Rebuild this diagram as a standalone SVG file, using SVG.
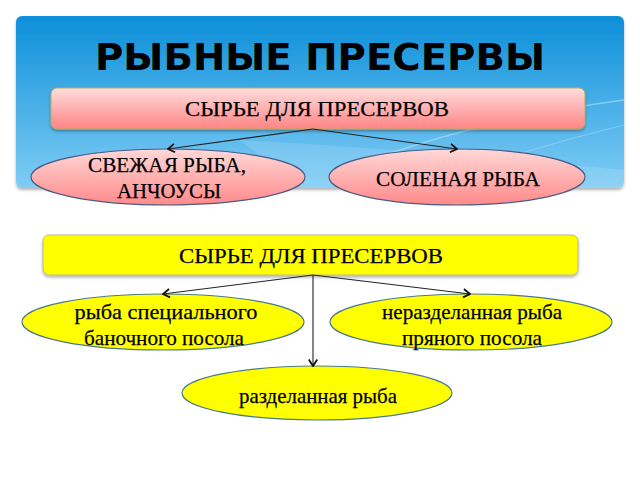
<svg xmlns="http://www.w3.org/2000/svg" width="640" height="480" viewBox="0 0 640 480">
<defs>
<linearGradient id="gBlue" x1="0" y1="0" x2="0" y2="1">
<stop offset="0" stop-color="#0d8fd9"/>
<stop offset="1" stop-color="#80cdf5"/>
</linearGradient>
<linearGradient id="gPink" x1="0" y1="0" x2="0" y2="1">
<stop offset="0" stop-color="#ffdcdc"/>
<stop offset="1" stop-color="#ff8585"/>
</linearGradient>
<linearGradient id="gPinkE" x1="0" y1="0" x2="0" y2="1">
<stop offset="0" stop-color="#ffd8d8"/>
<stop offset="1" stop-color="#ff8a8a"/>
</linearGradient>
<filter id="sh" x="-10%" y="-20%" width="120%" height="150%">
<feDropShadow dx="0" dy="2" stdDeviation="1.5" flood-color="#000" flood-opacity="0.3"/>
</filter>
<marker id="arr" viewBox="0 0 10 10" refX="9" refY="5" markerWidth="12" markerHeight="12" orient="auto" markerUnits="userSpaceOnUse">
<path d="M3.5,1.5 L9,5 L3.5,8.5" fill="none" stroke="#111" stroke-width="1.5"/>
</marker>
</defs>
<style>
.title{font-family:"DejaVu Sans","Liberation Sans",sans-serif;font-weight:bold;font-size:38px;fill:#000}
.t{font-family:"Liberation Serif","Times New Roman",serif;font-size:22px;fill:#000;stroke:#000;stroke-width:0.25}
.pinkE{fill:url(#gPinkE);stroke:#4a5a85;stroke-width:1.2}
.yelE{fill:#ffff00;stroke:#4a7a88;stroke-width:1.2}
.conn{stroke:#222;stroke-width:1.1;fill:none;marker-end:url(#arr)}
</style>
<rect width="640" height="480" fill="#fff"/>
<g id="banner">
<rect x="16" y="16" width="608" height="172" rx="6" fill="url(#gBlue)" filter="url(#sh)"/>
<path d="M330,175 Q470,120 624,100" stroke="#ffffff" stroke-opacity="0.35" stroke-width="1.5" fill="none"/>
<path d="M420,188 Q520,150 624,125" stroke="#ffffff" stroke-opacity="0.25" stroke-width="1" fill="none"/>
<path d="M240,140 Q420,150 624,170 L624,188 L300,188 Z" fill="#ffffff" fill-opacity="0.12"/>
<text class="title" x="320" y="70" text-anchor="middle" textLength="450" lengthAdjust="spacingAndGlyphs">РЫБНЫЕ ПРЕСЕРВЫ</text>
</g>
<g id="node-raw1">
<rect x="51" y="88" width="534" height="41" rx="6" fill="url(#gPink)" stroke="#b0b060" stroke-width="1" filter="url(#sh)"/>
<text class="t" x="317" y="116" text-anchor="middle" textLength="264" lengthAdjust="spacingAndGlyphs">СЫРЬЕ ДЛЯ ПРЕСЕРВОВ</text>
</g>
<g id="node-fresh">
<ellipse class="pinkE" cx="168" cy="177" rx="137" ry="28"/>
<text class="t" x="167" y="172" text-anchor="middle" textLength="158" lengthAdjust="spacingAndGlyphs">СВЕЖАЯ РЫБА,</text>
<text class="t" x="169" y="198" text-anchor="middle" textLength="104" lengthAdjust="spacingAndGlyphs">АНЧОУСЫ</text>
</g>
<g id="node-salted">
<ellipse class="pinkE" cx="457" cy="177" rx="128" ry="28"/>
<text class="t" x="458" y="186" text-anchor="middle" textLength="164" lengthAdjust="spacingAndGlyphs">СОЛЕНАЯ РЫБА</text>
</g>
<g id="node-raw2">
<rect x="43" y="235" width="535" height="40" rx="6" fill="#ffff00" stroke="#b8b890" stroke-width="1" filter="url(#sh)"/>
<text class="t" x="311" y="263" text-anchor="middle" textLength="264" lengthAdjust="spacingAndGlyphs">СЫРЬЕ ДЛЯ ПРЕСЕРВОВ</text>
</g>
<g id="node-special">
<ellipse class="yelE" cx="163" cy="322" rx="141" ry="28"/>
<text class="t" x="166" y="319" text-anchor="middle" textLength="183" lengthAdjust="spacingAndGlyphs">рыба специального</text>
<text class="t" x="164" y="345" text-anchor="middle" textLength="160" lengthAdjust="spacingAndGlyphs">баночного посола</text>
</g>
<g id="node-uncut">
<ellipse class="yelE" cx="471" cy="322" rx="141" ry="28"/>
<text class="t" x="472" y="319" text-anchor="middle" textLength="180" lengthAdjust="spacingAndGlyphs">неразделанная рыба</text>
<text class="t" x="472" y="345" text-anchor="middle" textLength="140" lengthAdjust="spacingAndGlyphs">пряного посола</text>
</g>
<g id="node-cut">
<ellipse class="yelE" cx="317" cy="393" rx="135" ry="27"/>
<text class="t" x="318" y="403" text-anchor="middle" textLength="158" lengthAdjust="spacingAndGlyphs">разделанная рыба</text>
</g>
<g id="connectors">
<line class="conn" x1="313" y1="129" x2="168" y2="149"/>
<line class="conn" x1="313" y1="129" x2="457" y2="149"/>
<line class="conn" x1="313" y1="275" x2="163" y2="294"/>
<line class="conn" x1="313" y1="275" x2="470" y2="294"/>
<line class="conn" x1="313" y1="275" x2="313" y2="366"/>
</g>
</svg>
